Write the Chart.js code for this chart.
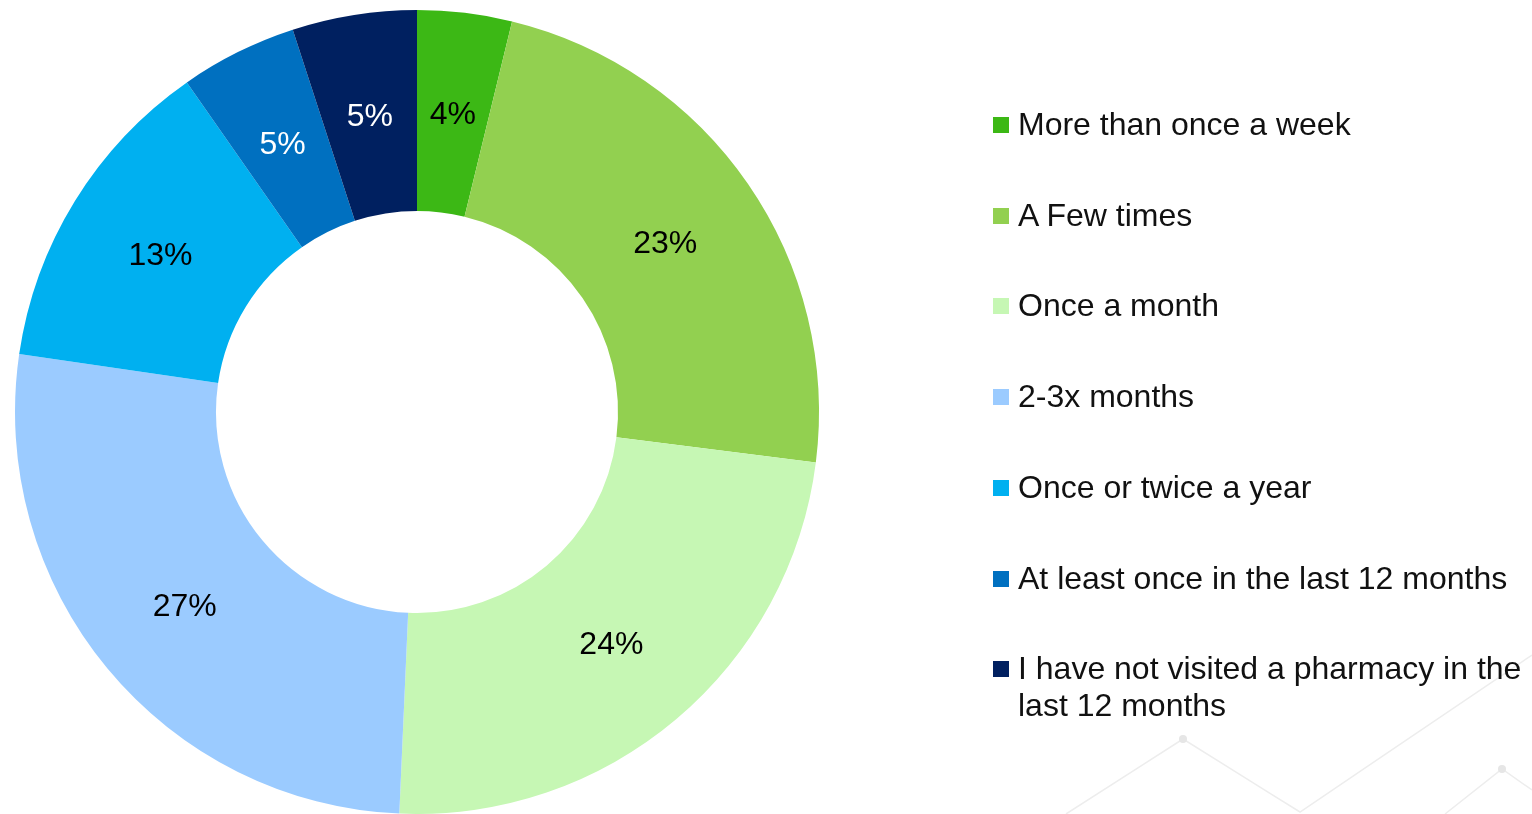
<!DOCTYPE html>
<html>
<head>
<meta charset="utf-8">
<script src="https://cdn.jsdelivr.net/npm/chart.js@4"></script>
<style>
  html, body { margin: 0; padding: 0; background: #ffffff; overflow: hidden; }
  #wrap { position: relative; width: 1532px; height: 814px; }
  #bg { position: absolute; left: 0; top: 0; }
  #c { position: absolute; left: 0; top: 0; }
  #legend { position: absolute; left: 993px; top: 0; font-family: "Liberation Sans", Arial, sans-serif; font-size: 32px; color: #111; }
  .item { position: absolute; left: 0; width: 560px; display: flex; align-items: flex-start; line-height: 37px; white-space: nowrap; }
  .box { width: 16px; height: 16px; flex: 0 0 16px; margin-top: 11px; margin-right: 9px; }
</style>
</head>
<body>
<div id="wrap">
  <svg id="bg" width="1532" height="814">
    <g stroke="#ededed" stroke-width="1.5" fill="none">
      <polyline points="1066,814 1183,739 1300,812 1532,655"/>
      <polyline points="1445,814 1502,769 1532,790"/>
    </g>
    <g fill="#e6e6e6">
      <circle cx="1183" cy="739" r="4"/>
      <circle cx="1502" cy="769" r="4"/>
    </g>
  </svg>
  <canvas id="c" width="1532" height="814"></canvas>
  <div id="legend"></div>
</div>
<script>
const categories = [
  "More than once a week",
  "A Few times",
  "Once a month",
  "2-3x months",
  "Once or twice a year",
  "At least once in the last 12 months",
  "I have not visited a pharmacy in the last 12 months"
];
const shares = [3.8, 23.2, 23.7, 26.6, 13.0, 4.7, 5.0];
const sliceColors = ["#3CB815", "#92D050", "#C6F7B4", "#9BCBFF", "#00B0F0", "#0070C0", "#002060"];
const labelColors = ["#000000", "#000000", "#000000", "#000000", "#000000", "#ffffff", "#ffffff"];

// legend (HTML, real text)
const legendLines = [
  ["More than once a week"],
  ["A Few times"],
  ["Once a month"],
  ["2-3x months"],
  ["Once or twice a year"],
  ["At least once in the last 12 months"],
  ["I have not visited a pharmacy in the", "last 12 months"]
];
const lg = document.getElementById('legend');
categories.forEach((name, i) => {
  const d = document.createElement('div');
  d.className = 'item';
  d.style.top = (106 + i * 90.7) + 'px';
  const b = document.createElement('div');
  b.className = 'box';
  b.style.background = sliceColors[i];
  const t = document.createElement('div');
  t.innerHTML = legendLines[i].join('<br>');
  d.appendChild(b); d.appendChild(t);
  lg.appendChild(d);
});

const pctLabels = {
  id: 'pctLabels',
  afterDatasetsDraw(chart) {
    const ctx = chart.ctx;
    const meta = chart.getDatasetMeta(0);
    const total = shares.reduce((a, b) => a + b, 0);
    ctx.save();
    ctx.font = '32px "Liberation Sans", Arial, sans-serif';
    ctx.textAlign = 'center';
    ctx.textBaseline = 'middle';
    meta.data.forEach((arc, i) => {
      const p = arc.tooltipPosition();
      ctx.fillStyle = labelColors[i];
      ctx.fillText(Math.round(shares[i] / total * 100) + '%', p.x, p.y + 3);
    });
    ctx.restore();
  }
};

new Chart(document.getElementById('c'), {
  type: 'doughnut',
  data: {
    labels: categories,
    datasets: [{
      data: shares,
      backgroundColor: sliceColors,
      borderWidth: 0
    }]
  },
  options: {
    responsive: false,
    animation: false,
    cutout: '50%',
    layout: { padding: { left: 15, top: 10, right: 713, bottom: 0 } },
    plugins: {
      legend: { display: false },
      tooltip: { enabled: false }
    }
  },
  plugins: [pctLabels]
});
</script>
</body>
</html>
